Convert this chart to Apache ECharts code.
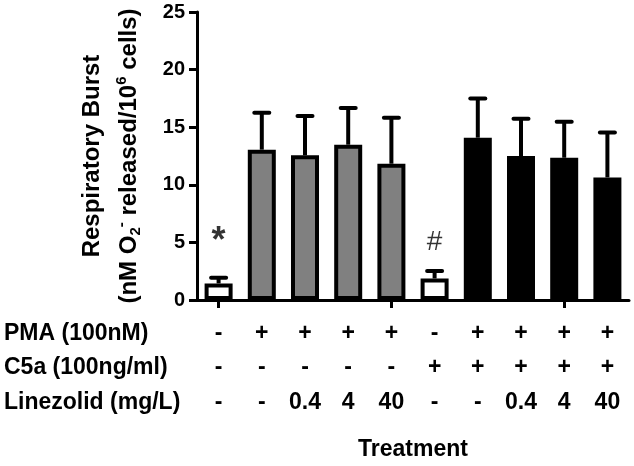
<!DOCTYPE html>
<html>
<head>
<meta charset="utf-8">
<script src="https://cdn.jsdelivr.net/npm/echarts@6/dist/echarts.min.js"></script>
<style>
html,body{margin:0;padding:0;background:#fff;}
#chart{width:634px;height:466px;}
</style>
</head>
<body>
<div id="chart"></div>
<script>
// ---- data ----
const categories = ['Control','PMA','PMA+LZD0.4','PMA+LZD4','PMA+LZD40','C5a','C5a+PMA','C5a+PMA+LZD0.4','C5a+PMA+LZD4','C5a+PMA+LZD40'];
const meanValues = [1.44, 13.05, 12.56, 13.48, 11.83, 1.87, 14.09, 12.5, 12.35, 10.64];
const errorTops  = [1.93, 16.26, 15.97, 16.66, 15.83, 2.51, 17.49, 15.74, 15.48, 14.55];
const pmaRow       = ['-','+','+','+','+','-','+','+','+','+'];
const c5aRow       = ['-','-','-','-','-','+','+','+','+','+'];
const linezolidRow = ['-','-','0.4','4','40','-','-','0.4','4','40'];
const rowTitles = ['PMA (100nM)', 'C5a (100ng/ml)', 'Linezolid (mg/L)'];
const yTicks = [0, 5, 10, 15, 20, 25];
const annotationText  = ['*', '#'];
const annotationIndex = [0, 5];
const annotationLevel = [5.0, 4.97];

// ---- styles ----
const groupFill = ['#ffffff','#808080','#808080','#808080','#808080','#ffffff','#000000','#000000','#000000','#000000'];
const FONT = '"Liberation Sans", Arial, sans-serif';

const chart = echarts.init(document.getElementById('chart'), null, {renderer: 'canvas'});

function rowAxis(row, title, offset) {
  return {
    type: 'category',
    data: categories,
    gridIndex: 0,
    position: 'bottom',
    offset: offset,
    axisLine: {show: false},
    axisTick: {show: false},
    splitLine: {show: false},
    axisLabel: {
      interval: 0,
      margin: 0,
      verticalAlign: 'middle',
      formatter: (v, i) => row[i],
      fontFamily: FONT, fontSize: 23, fontWeight: 'bold', color: '#000'
    },
    name: title,
    nameLocation: 'start',
    nameGap: 193,
    nameTextStyle: {align: 'left', verticalAlign: 'middle', fontFamily: FONT, fontSize: 23, fontWeight: 'bold', color: '#000'}
  };
}

const nameBase = {fontFamily: FONT, fontSize: 24, fontWeight: 'bold', color: '#000', lineHeight: 37};
const smallBase = {fontFamily: FONT, fontSize: 15, fontWeight: 'bold', color: '#000', lineHeight: 15};

const option = {
  animation: false,
  backgroundColor: '#fff',
  grid: {left: 197, right: 5, top: 12, bottom: 166, containLabel: false},
  xAxis: [
    {
      type: 'category',
      data: categories,
      axisLine: {lineStyle: {color: '#000', width: 3}},
      axisTick: {show: true, alignWithLabel: true, length: 8, lineStyle: {color: '#000', width: 3}},
      axisLabel: {show: false},
      splitLine: {show: false},
      name: 'Treatment',
      nameLocation: 'middle',
      nameGap: 138,
      nameTextStyle: {fontFamily: FONT, fontSize: 23, fontWeight: 'bold', color: '#000'}
    },
    rowAxis(pmaRow, rowTitles[0], 34),
    rowAxis(c5aRow, rowTitles[1], 68),
    rowAxis(linezolidRow, rowTitles[2], 103)
  ],
  yAxis: {
    type: 'value',
    min: yTicks[0],
    max: yTicks[yTicks.length - 1],
    interval: yTicks[1] - yTicks[0],
    axisLine: {show: true, lineStyle: {color: '#000', width: 3}},
    axisTick: {show: true, length: 8, lineStyle: {color: '#000', width: 3}},
    axisLabel: {margin: 12, fontFamily: FONT, fontSize: 20, fontWeight: 'bold', color: '#000'},
    splitLine: {show: false},
    name: '{n|Respiratory Burst}\n{n|(nM O}{sub|2}{sup|-}{n| released/10}{sup|6}{n| cells)}',
    nameLocation: 'middle',
    nameRotate: 90,
    nameGap: 49,
    nameTextStyle: Object.assign({}, nameBase, {
      rich: {
        n: nameBase,
        sup: Object.assign({}, smallBase, {padding: [0, 0, 15, 0]}),
        sub: Object.assign({}, smallBase, {padding: [13, 0, 0, 0]})
      }
    })
  },
  series: [
    {
      type: 'bar',
      data: meanValues,
      barWidth: 28,
      itemStyle: {
        color: (p) => groupFill[p.dataIndex],
        borderColor: '#000',
        borderWidth: 4
      },
      z: 2
    },
    {
      type: 'custom',
      data: meanValues.map((m, i) => [i, m, errorTops[i]]),
      renderItem: function (params, api) {
        const base = api.coord([api.value(0), api.value(1)]);
        const top = api.coord([api.value(0), api.value(2)]);
        const half = 7.5;
        return {
          type: 'group',
          children: [
            {type: 'line', shape: {x1: base[0], y1: base[1], x2: top[0], y2: top[1]},
             style: {stroke: '#000', lineWidth: 4}},
            {type: 'line', shape: {x1: top[0] - half, y1: top[1], x2: top[0] + half, y2: top[1]},
             style: {stroke: '#000', lineWidth: 4, lineCap: 'round'}}
          ]
        };
      },
      z: 3
    },
    {
      type: 'scatter',
      data: annotationIndex.map((c, i) => [c, annotationLevel[i]]),
      symbolSize: 0,
      label: {
        show: true,
        position: 'inside',
        formatter: (p) => '{a' + p.dataIndex + '|' + annotationText[p.dataIndex] + '}',
        rich: {
          a0: {fontFamily: FONT, fontSize: 36, fontWeight: 'bold', color: '#000'},
          a1: {fontFamily: FONT, fontSize: 28, fontWeight: 'normal', color: '#000'}
        }
      },
      z: 4
    }
  ]
};

chart.setOption(option);
</script>
</body>
</html>
